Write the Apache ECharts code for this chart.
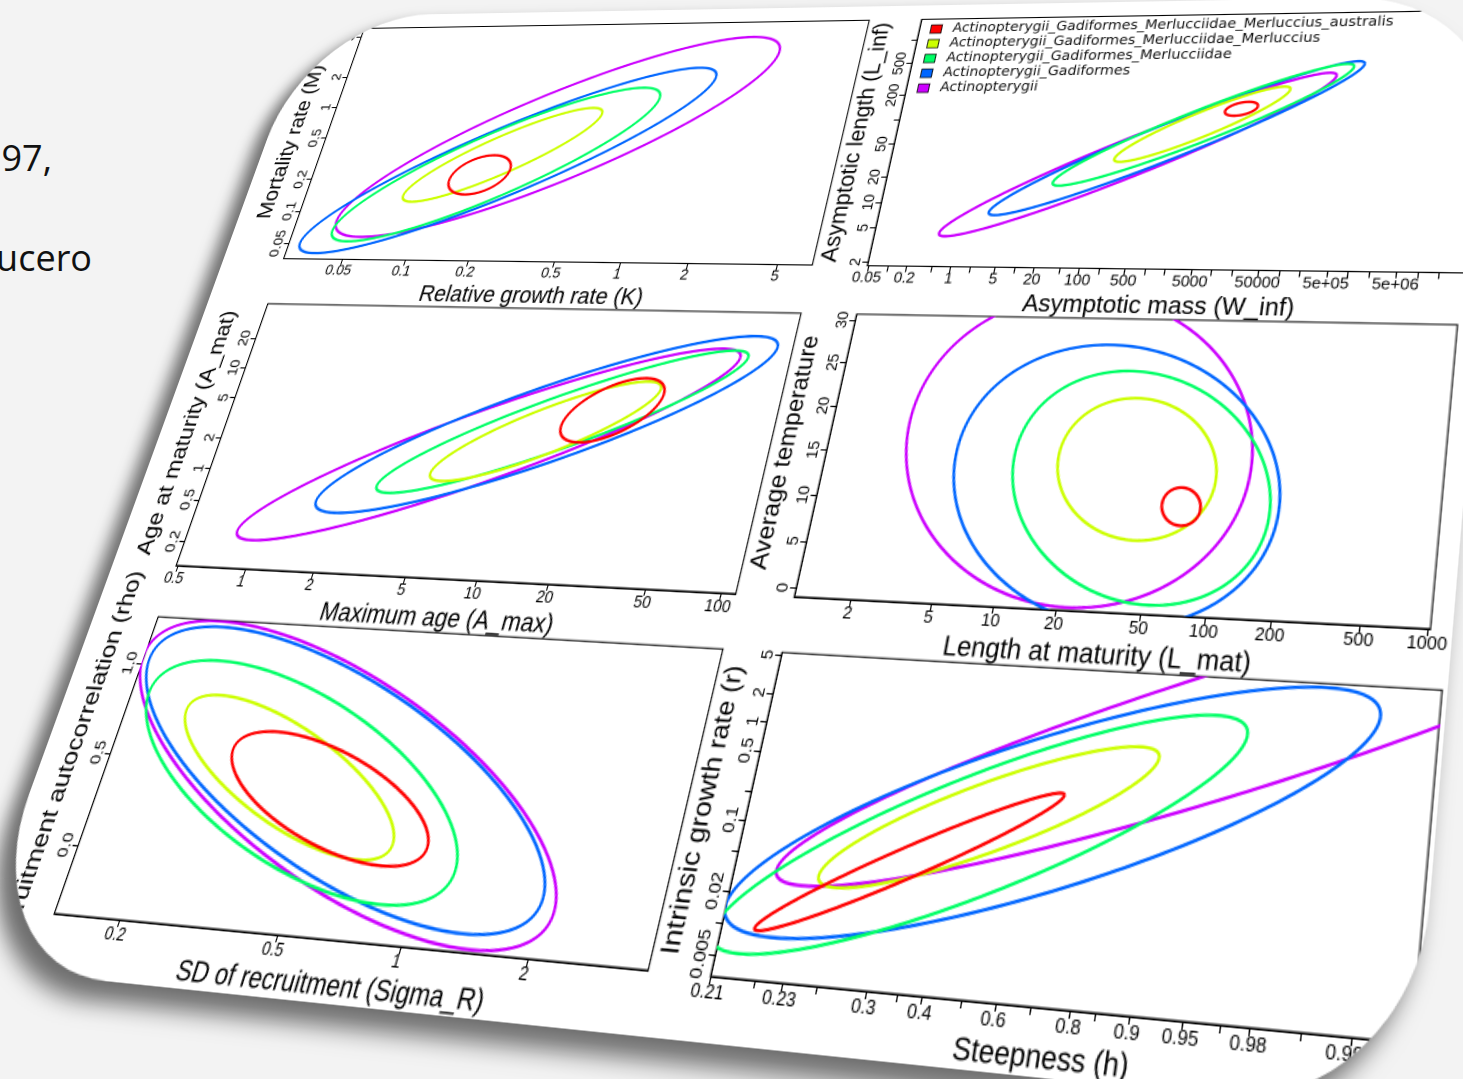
<!DOCTYPE html>
<html><head><meta charset="utf-8">
<script src="https://cdn.jsdelivr.net/npm/echarts@6/dist/echarts.min.js"></script>
<style>
html,body{margin:0;padding:0;width:1463px;height:1079px;overflow:hidden;background:#f3f3f3;}
.t{position:absolute;font-family:'Open Sans','Noto Sans',sans-serif;font-size:36px;line-height:36px;color:#111;white-space:nowrap;}
#wrap{position:absolute;left:0;top:0;width:0;height:0;transform-origin:0 0;}
#slide{position:absolute;background:#fff;overflow:hidden;border-radius:125px;box-shadow:-9px 12px 16px 2px rgba(0,0,0,0.55);}
#chart{position:absolute;left:0;top:0;}
</style></head><body>
<div class="t" style="right:1411px;top:140px;">97,</div>
<div class="t" style="right:1371px;top:240px;">ucero</div>
<div id="wrap"><div id="slide"><div id="chart"></div></div></div>
<script>
// ---------------- DATA ----------------
const taxa = ['Actinopterygii_Gadiformes_Merlucciidae_Merluccius_australis',
  'Actinopterygii_Gadiformes_Merlucciidae_Merluccius',
  'Actinopterygii_Gadiformes_Merlucciidae',
  'Actinopterygii_Gadiformes',
  'Actinopterygii'];
const taxonColors = ['#FF0000', '#CCFF00', '#00FF66', '#0066FF', '#CC00FF'];

// each ellipse row: [xmin, xmax, ymin, ymax, correlation] (order = taxa)
const kmEllipses = [
  [0.123, 0.232, 0.146, 0.34, 0.3],
  [0.078, 0.528, 0.1245, 0.95, 0.88],
  [0.0403, 0.94, 0.0531, 1.47, 0.87],
  [0.0294, 1.62, 0.0411, 2.26, 0.9],
  [0.0407, 2.97, 0.0585, 4.42, 0.85]];
const wlEllipses = [
  [7160, 22400, 106, 155, 0.4],
  [179, 65000, 30.5, 234, 0.93],
  [22.5, 550000, 16, 431, 0.955],
  [2.7, 790000, 7.2, 463, 0.965],
  [0.51, 310000, 4.06, 339, 0.965]];
const ageEllipses = [
  [14.9, 37.2, 2.37, 10, 0.55],
  [4.7, 35.7, 0.93, 9.3, 0.87],
  [2.86, 76.6, 0.69, 19.3, 0.92],
  [1.63, 99, 0.43, 26.8, 0.89],
  [0.81, 71, 0.222, 20, 0.92]];
const lmatTempEllipses = [
  [53, 81, 8.3, 12.3, -0.1],
  [15.5, 91.6, 6.58, 21.8, -0.12],
  [9.4, 171, 0.04, 24.8, -0.2],
  [4.8, 188, -2.3, 27.7, -0.15],
  [2.6, 132, -0.6, 33.4, -0.1]];
const recEllipses = [
  [0.278, 0.994, 0.032, 0.679, -0.65],
  [0.195, 0.817, 0.052, 0.855, -0.76],
  [0.15, 1.2, -0.159, 1.044, -0.66],
  [0.14, 2.0, -0.263, 1.233, -0.72],
  [0.134, 2.16, -0.336, 1.265, -0.72]];
const hrEllipses = [
  [0.2167, 0.7016, 0.00916, 0.3126, 0.975],
  [0.2372, 0.8922, 0.0268, 0.993, 0.88],
  [0.2088, 0.9664, 0.0054, 2.25, 0.87],
  [0.2099, 0.99486, 0.00813, 4.9, 0.82],
  [0.2193, 0.99994, 0.0263, 100, 0.93]];

// axis ranges
const kRange = [0.026, 7.08], mRange = [0.0363, 6.17];
const winfRange = [0.0468, 7.08e7], linfRange = [1.82, 1820];
const amaxRange = [0.49, 114.8], amatRange = [0.1205, 45.7];
const lmatRange = [1.047, 1023], tempRange = [-0.9, 30.7];
const sigmaRange = [0.135, 3.79], rhoRange = [-0.353, 1.27];
const hRange = [0.21, 0.9978], rRange = [0.00316, 5.37];

// ticks and tick labels
const kTicks = [0.05, 0.1, 0.2, 0.5, 1, 2, 5], kLabels = ['0.05', '0.1', '0.2', '0.5', '1', '2', '5'];
const mTicks = [0.05, 0.1, 0.2, 0.5, 1, 2, 5], mLabels = ['0.05', '0.1', '0.2', '0.5', '1', '2', '5'];
const winfTicks = [0.05, 0.1, 0.2, 0.5, 1, 2, 5, 10, 20, 50, 100, 200, 500, 1000, 2000, 5000, 1e4, 2e4, 5e4, 1e5, 2e5, 5e5, 1e6, 2e6, 5e6, 1e7, 2e7, 5e7];
const winfLabels = ['0.05', '0.2', '1', '5', '20', '100', '500', '5000', '50000', '5e+05', '5e+06'];
const linfTicks = [2, 5, 10, 20, 50, 100, 200, 500, 1000];
const linfLabels = ['2', '5', '10', '20', '50', '200', '500'];
const amaxTicks = [0.5, 1, 2, 5, 10, 20, 50, 100], amaxLabels = ['0.5', '1', '2', '5', '10', '20', '50', '100'];
const amatTicks = [0.2, 0.5, 1, 2, 5, 10, 20], amatLabels = ['0.2', '0.5', '1', '2', '5', '10', '20'];
const lmatTicks = [2, 5, 10, 20, 50, 100, 200, 500, 1000], lmatLabels = ['2', '5', '10', '20', '50', '100', '200', '500', '1000'];
const tempTicks = [0, 5, 10, 15, 20, 25, 30], tempLabels = ['0', '5', '10', '15', '20', '25', '30'];
const sigmaTicks = [0.2, 0.5, 1, 2], sigmaLabels = ['0.2', '0.5', '1', '2'];
const rhoTicks = [0, 0.5, 1], rhoLabels = ['0.0', '0.5', '1.0'];
const hTicks = [0.21, 0.22, 0.23, 0.25, 0.3, 0.35, 0.4, 0.5, 0.6, 0.7, 0.8, 0.85, 0.9, 0.95, 0.97, 0.98, 0.99, 0.995];
const hLabels = ['0.21', '0.23', '0.3', '0.4', '0.6', '0.8', '0.9', '0.95', '0.98', '0.995'];
const rTicks = [0.005, 0.01, 0.02, 0.05, 0.1, 0.2, 0.5, 1, 2, 5];
const rLabels = ['0.005', '0.02', '0.1', '0.5', '1', '2', '5'];

// ---------------- SCALES ----------------
const lg = v => Math.log10(v);
const lin = v => v;
const logitH = h => Math.log((h - 0.2) / (1 - h));   // steepness axis: logit((h-0.2)/0.8)

const panels = [
  {col:0,row:0,fx:lg,fy:lg,xr:kRange,yr:mRange,xt:kTicks,xl:kLabels,yt:mTicks,yl:mLabels,xn:'Relative growth rate (K)',yn:'Mortality rate (M)',e:kmEllipses},
  {col:1,row:0,fx:lg,fy:lg,xr:winfRange,yr:linfRange,xt:winfTicks,xl:winfLabels,yt:linfTicks,yl:linfLabels,xn:'Asymptotic mass (W_inf)',yn:'Asymptotic length (L_inf)',e:wlEllipses},
  {col:0,row:1,fx:lg,fy:lg,xr:amaxRange,yr:amatRange,xt:amaxTicks,xl:amaxLabels,yt:amatTicks,yl:amatLabels,xn:'Maximum age (A_max)',yn:'Age at maturity (A_mat)',e:ageEllipses},
  {col:1,row:1,fx:lg,fy:lin,xr:lmatRange,yr:tempRange,xt:lmatTicks,xl:lmatLabels,yt:tempTicks,yl:tempLabels,xn:'Length at maturity (L_mat)',yn:'Average temperature',e:lmatTempEllipses},
  {col:0,row:2,fx:lg,fy:lin,xr:sigmaRange,yr:rhoRange,xt:sigmaTicks,xl:sigmaLabels,yt:rhoTicks,yl:rhoLabels,xn:'SD of recruitment (Sigma_R)',yn:'Recruitment autocorrelation (rho)',e:recEllipses},
  {col:1,row:2,fx:logitH,fy:lg,xr:hRange,yr:rRange,xt:hTicks,xl:hLabels,yt:rTicks,yl:rLabels,xn:'Steepness (h)',yn:'Intrinsic growth rate (r)',e:hrEllipses}
];

// ---------------- FLAT LAYOUT + PERSPECTIVE ----------------
const FL = {x0:75, y0:32, w:500, h:225, cg:48.5, rg:41.4};
function boxOf(c, r) { return {l: FL.x0 + c*(FL.w+FL.cg), t: FL.y0 + r*(FL.h+FL.rg)}; }
// where the plot-box corners appear in the photographed slide
const cornerPairs = [
  [0,0,'tl',358,42],[0,0,'tl',358,42],[0,0,'tr',873,13],[0,0,'bl',286,250],[0,0,'br',816,262],
  [1,0,'tl',926,13],[1,0,'bl',872,262],
  [0,1,'tl',268,295],[0,1,'tr',805,309],[0,1,'bl',178,562],[0,1,'br',737,595],
  [1,1,'tl',860,310],[1,1,'bl',797,598],[1,1,'br',1440,635],
  [0,2,'tl',160,612],[0,2,'tr',725,648],[0,2,'bl',53,917],[0,2,'br',647,977],
  [1,2,'tl',783,653],[1,2,'bl',712,982],[1,2,'tr',1436,693]];
function flatCorner(c, r, k) { const b = boxOf(c, r); return [b.l + (k[1]==='r'?FL.w:0), b.t + (k[0]==='b'?FL.h:0)]; }
function solveLin(M) {
  const n = M.length;
  for (let i=0;i<n;i++) {
    let p=i; for (let r=i+1;r<n;r++) if (Math.abs(M[r][i])>Math.abs(M[p][i])) p=r;
    const tmp=M[i]; M[i]=M[p]; M[p]=tmp;
    for (let r=0;r<n;r++) { if (r===i) continue; const f=M[r][i]/M[i][i]; for (let c=i;c<=n;c++) M[r][c]-=f*M[i][c]; }
  }
  return M.map((row,i)=>row[n]/row[i]);
}
function fitH() {
  const s = 1000, N = 8;
  const M = []; for (let i=0;i<N;i++) M.push(new Array(N+1).fill(0));
  const addRow = (a, b) => { for (let i=0;i<N;i++){ for (let j=0;j<N;j++) M[i][j]+=a[i]*a[j]; M[i][N]+=a[i]*b; } };
  cornerPairs.forEach(([c,r,k,X0,Y0]) => {
    const [x0,y0] = flatCorner(c,r,k);
    const x=x0/s, y=y0/s, X=X0/s, Y=Y0/s;
    addRow([x,y,1,0,0,0,-x*X,-y*X], X);
    addRow([0,0,0,x,y,1,-x*Y,-y*Y], Y);
  });
  const [a,b,c,d,e,f,g,h] = solveLin(M);
  return [[a,b,c*s],[d,e,f*s],[g/s,h/s,1]];
}
function applyH(H,x,y){ const w=H[2][0]*x+H[2][1]*y+H[2][2]; return [(H[0][0]*x+H[0][1]*y+H[0][2])/w,(H[1][0]*x+H[1][1]*y+H[1][2])/w]; }
function inv3(m){
  const [a,b,c]=m[0],[d,e,f]=m[1],[g,h,i]=m[2];
  const A=e*i-f*h, B=-(d*i-f*g), C=d*h-e*g;
  const det=a*A+b*B+c*C;
  return [[A/det,-(b*i-c*h)/det,(b*f-c*e)/det],[B/det,(a*i-c*g)/det,-(a*f-c*d)/det],[C/det,-(a*h-b*g)/det,(a*e-b*d)/det]];
}
const H = fitH(), Hi = inv3(H);
const sl = applyH(Hi,100,600)[0], st = applyH(Hi,700,9)[1], sr = applyH(Hi,1456,600)[0], sb = applyH(Hi,700,1042)[1];
const wrap = document.getElementById('wrap'), slide = document.getElementById('slide'), chartDom = document.getElementById('chart');
wrap.style.transform = `matrix3d(${H[0][0]},${H[1][0]},0,${H[2][0]},${H[0][1]},${H[1][1]},0,${H[2][1]},0,0,1,0,${H[0][2]},${H[1][2]},0,${H[2][2]})`;
const SW = Math.round(sr-sl), SH = Math.round(sb-st);
Object.assign(slide.style, {left: sl+'px', top: st+'px', width: SW+'px', height: SH+'px'});
Object.assign(chartDom.style, {width: SW+'px', height: SH+'px'});

// ---------------- CHART ----------------
const FONT = 'Liberation Sans, Arial, sans-serif';
function fmt(labels, f) { return v => { for (const s of labels) if (Math.abs(f(Number(s)) - v) < 1e-6) return s; return ''; }; }
function inRange(vals, f, r) { const lo=f(r[0]), hi=f(r[1]); return vals.map(f).filter(v => v>=lo-1e-9 && v<=hi+1e-9); }
function makeRender(fx, fy) {
  return function (params, api) {
    const x0=fx(api.value(0)), x1=fx(api.value(1)), y0=fy(api.value(2)), y1=fy(api.value(3)), rho=api.value(4);
    const cx=(x0+x1)/2, sx=(x1-x0)/2, cy=(y0+y1)/2, sy=(y1-y0)/2, q=Math.sqrt(1-rho*rho);
    const pts=[];
    for (let i=0;i<=240;i++){ const t=i/240*2*Math.PI; pts.push(api.coord([cx+sx*Math.cos(t), cy+sy*(rho*Math.cos(t)+q*Math.sin(t))])); }
    return {type:'polyline', shape:{points:pts}, style:{stroke: api.visual('color'), lineWidth: 2.3, fill: null}};
  };
}
const grid=[], xAxis=[], yAxis=[], series=[];
panels.forEach((p, i) => {
  const b = boxOf(p.col, p.row);
  grid.push({left: b.l - sl, top: b.t - st, width: FL.w, height: FL.h, show: true, borderColor: '#000', borderWidth: 1, backgroundColor: 'transparent'});
  const common = {type:'value', splitLine:{show:false}, axisLine:{show:true, onZero:false, lineStyle:{color:'#000', width:1}}};
  xAxis.push(Object.assign({}, common, {gridIndex:i, position:'bottom', min:p.fx(p.xr[0]), max:p.fx(p.xr[1]),
    axisTick:{show:true, inside:false, length:5, lineStyle:{color:'#000'}, customValues: inRange(p.xt, p.fx, p.xr)},
    axisLabel:{show:true, customValues: inRange(p.xl.map(Number), p.fx, p.xr), formatter: fmt(p.xl, p.fx), fontSize:13, color:'#000', fontFamily:FONT, margin:4, hideOverlap:false},
    name:p.xn, nameLocation:'middle', nameGap:21, nameTextStyle:{fontSize:20, color:'#000', fontFamily:FONT}}));
  yAxis.push(Object.assign({}, common, {gridIndex:i, position:'left', min:p.fy(p.yr[0]), max:p.fy(p.yr[1]),
    axisTick:{show:true, inside:false, length:5, lineStyle:{color:'#000'}, customValues: inRange(p.yt, p.fy, p.yr)},
    axisLabel:{show:true, rotate:90, customValues: inRange(p.yl.map(Number), p.fy, p.yr), formatter: fmt(p.yl, p.fy), fontSize:13, color:'#000', fontFamily:FONT, margin:4, hideOverlap:false},
    name:p.yn, nameLocation:'middle', nameRotate:90, nameGap:24, nameTextStyle:{fontSize:20, color:'#000', fontFamily:FONT}}));
  for (let j = taxa.length - 1; j >= 0; j--) {
    series.push({type:'custom', name:taxa[j], xAxisIndex:i, yAxisIndex:i, clip:true, silent:true,
      color: taxonColors[j], itemStyle:{color: taxonColors[j]},
      encode:{x:[0,1], y:[2,3]}, renderItem: makeRender(p.fx, p.fy), data:[p.e[j]]});
  }
});
const b2 = boxOf(1, 0);
const chart = echarts.init(chartDom, null, {renderer:'canvas', devicePixelRatio: 2});
chart.setOption({
  animation:false,
  textStyle:{fontFamily:FONT},
  grid, xAxis, yAxis, series,
  legend:{data: taxa, orient:'vertical', left: b2.l - sl + 10, top: b2.t - st + 3, padding:0, itemGap:1,
    itemWidth:10, itemHeight:8, icon:'rect', selectedMode:false,
    itemStyle:{borderColor:'#000', borderWidth:0.8},
    textStyle:{fontSize:12.5, lineHeight:10, color:'#111', fontFamily:'DejaVu Sans, sans-serif', padding:[0,0,0,5]}}
});
</script>
</body></html>
